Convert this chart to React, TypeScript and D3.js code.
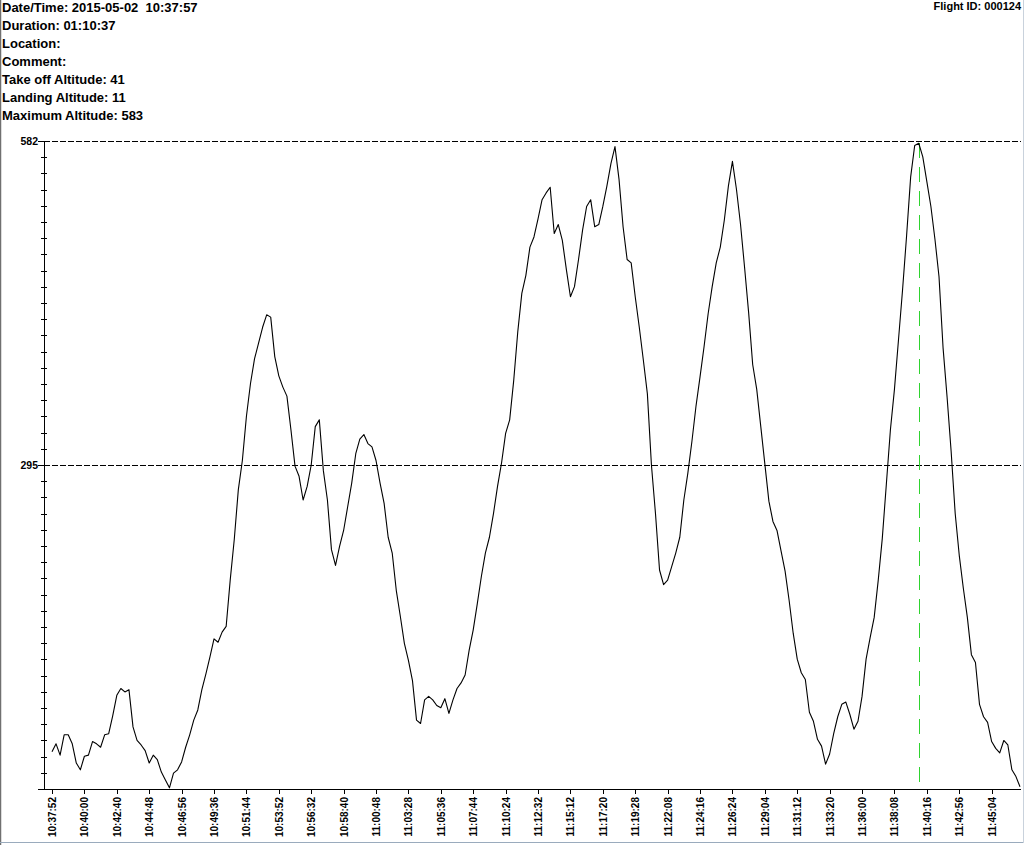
import React, { useMemo } from "react";
import * as d3 from "d3";

const WIDTH = 1027;
const HEIGHT = 845;
const FONT = "'Liberation Sans', Arial, sans-serif";

// flight summary lines shown top-left
const headerLines = [
  "Date/Time: 2015-05-02  10:37:57",
  "Duration: 01:10:37",
  "Location:",
  "Comment:",
  "Take off Altitude: 41",
  "Landing Altitude: 11",
  "Maximum Altitude: 583",
];
const flightId = "Flight ID: 000124";

// altitude samples (m)
const altitude = [
  41, 48, 38, 56, 56, 48, 31, 25, 37, 38, 50, 48, 45, 56, 57, 73, 91, 97, 94, 96,
  63, 51, 47, 42, 31, 38, 34, 23, 16, 9, 22, 25, 32, 45, 56, 69, 78, 96, 110, 125,
  141, 138, 147, 152, 193, 229, 273, 299, 338, 367, 389, 403, 417, 428, 426, 391, 374, 364, 356, 326,
  294, 285, 264, 276, 295, 329, 335, 290, 264, 220, 206, 223, 237, 258, 279, 305, 318, 322, 314, 311,
  299, 279, 261, 231, 217, 184, 161, 137, 122, 104, 69, 66, 87, 90, 87, 82, 80, 88, 75, 87,
  97, 102, 109, 131, 149, 172, 196, 217, 231, 252, 276, 297, 323, 335, 370, 413, 447, 463, 488, 497,
  513, 530, 536, 541, 500, 508, 494, 468, 444, 453, 477, 503, 524, 530, 506, 508, 524, 542, 562, 577,
  548, 506, 477, 474, 444, 417, 388, 358, 295, 252, 202, 189, 193, 205, 217, 231, 264, 288, 316, 347,
  373, 400, 429, 453, 474, 488, 512, 542, 564, 539, 508, 470, 430, 384, 362, 329, 296, 263, 245, 237,
  219, 201, 175, 146, 123, 111, 105, 76, 68, 52, 46, 30, 39, 57, 72, 83, 85, 74, 61, 68,
  90, 123, 142, 160, 193, 230, 278, 326, 362, 406, 450, 498, 550, 578, 580, 568, 546, 524, 495, 462,
  399, 355, 307, 252, 215, 186, 160, 127, 120, 83, 72, 67, 50, 44, 40, 51, 47, 25, 19, 10,
];

// time labels, one every 8 samples
const timeLabels = [
  "10:37:52", "10:40:00", "10:42:40", "10:44:48", "10:46:56", "10:49:36",
  "10:51:44", "10:53:52", "10:56:32", "10:58:40", "11:00:48", "11:03:28",
  "11:05:36", "11:07:44", "11:10:24", "11:12:32", "11:15:12", "11:17:20",
  "11:19:28", "11:22:08", "11:24:16", "11:26:24", "11:29:04", "11:31:12",
  "11:33:20", "11:36:00", "11:38:08", "11:40:16", "11:42:56", "11:45:04",
];
const LABEL_STEP = 8;

const yMin = 8;
const yLabels = [295, 582];
const yMax = 582;
const MINOR_TICKS = 40;

export const FlightChart = () => {
  const axisX = 44;
  const axisY = 789;
  const topY = 141;
  const rightX = 1021;

  const xScale = useMemo(
    () => d3.scaleLinear().domain([0, altitude.length - 1]).range([52, 1020]),
    []
  );
  const yScale = useMemo(
    () => d3.scaleLinear().domain([yMin, yMax]).range([axisY, topY]),
    []
  );

  const linePath =
    d3
      .line<number>()
      .x((d, i) => xScale(i))
      .y((d) => yScale(d))(altitude) || "";

  const maxIndex = d3.maxIndex(altitude);
  const minorTicks = d3.range(0, MINOR_TICKS + 1).map(
    (k) => yMin + (k * (yMax - yMin)) / MINOR_TICKS
  );

  return (
    <svg
      width={WIDTH}
      height={HEIGHT}
      style={{ position: "absolute", left: 0, top: 0, background: "#fff" }}
      fontFamily={FONT}
    >
      {/* window border */}
      <line x1={0.5} x2={0.5} y1={0} y2={HEIGHT} stroke="#707070" strokeWidth={1.5} />
      <line x1={0} x2={1024} y1={842.5} y2={842.5} stroke="#9aabbd" />
      <line x1={1023.5} x2={1023.5} y1={0} y2={843} stroke="#c9d2dc" />

      {headerLines.map((t, i) => (
        <text
          key={i}
          x={2}
          y={12 + i * 18}
          fontSize={13}
          fontWeight="bold"
          fill="#000"
          style={{ whiteSpace: "pre" }}
        >
          {t}
        </text>
      ))}
      <text x={rightX} y={9.5} fontSize={11} fontWeight="bold" textAnchor="end" fill="#000">
        {flightId}
      </text>

      {/* reference lines */}
      {yLabels.map((v) => (
        <line
          key={v}
          x1={axisX}
          x2={rightX}
          y1={Math.round(yScale(v)) + 0.5}
          y2={Math.round(yScale(v)) + 0.5}
          stroke="#000"
          strokeDasharray="6,2"
          shapeRendering="crispEdges"
        />
      ))}

      {/* max altitude marker */}
      <line
        x1={Math.round(xScale(maxIndex)) + 0.5}
        x2={Math.round(xScale(maxIndex)) + 0.5}
        y1={topY + 2}
        y2={axisY - 7}
        stroke="#2fd32f"
        strokeWidth={1}
        strokeDasharray="15,9"
        shapeRendering="crispEdges"
      />

      {/* y axis */}
      <line x1={axisX + 0.5} x2={axisX + 0.5} y1={topY} y2={axisY} stroke="#000" shapeRendering="crispEdges" />
      {minorTicks.map((v, i) => (
        <line
          key={i}
          x1={axisX - 3}
          x2={axisX + 3}
          y1={Math.round(yScale(v)) + 0.5}
          y2={Math.round(yScale(v)) + 0.5}
          stroke="#000"
          shapeRendering="crispEdges"
        />
      ))}
      {yLabels.map((v) => (
        <g key={v} transform={`translate(0,${Math.round(yScale(v)) + 0.5})`}>
          <line x1={38} x2={axisX} stroke="#000" shapeRendering="crispEdges" />
          <text x={38} dy="0.35em" fontSize={10.5} fontWeight="bold" textAnchor="end" fill="#000">
            {v}
          </text>
        </g>
      ))}

      {/* x axis */}
      <line x1={38} x2={rightX} y1={axisY + 0.5} y2={axisY + 0.5} stroke="#000" shapeRendering="crispEdges" />
      {timeLabels.map((t, k) => {
        const x = Math.round(xScale(k * LABEL_STEP)) + 0.5;
        return (
          <g key={t} transform={`translate(${x},0)`}>
            <line y1={axisY} y2={axisY + 5} stroke="#000" shapeRendering="crispEdges" />
            <text
              transform={`translate(0,${axisY + 8}) rotate(-90)`}
              dy="0.35em"
              fontSize={10}
              fontWeight="bold"
              textAnchor="end"
              fill="#000"
            >
              {t}
            </text>
          </g>
        );
      })}

      {/* altitude trace */}
      <path d={linePath} fill="none" stroke="#000" strokeWidth={1.1} strokeLinejoin="round" />
    </svg>
  );
};

export default function App() {
  return <FlightChart />;
}
